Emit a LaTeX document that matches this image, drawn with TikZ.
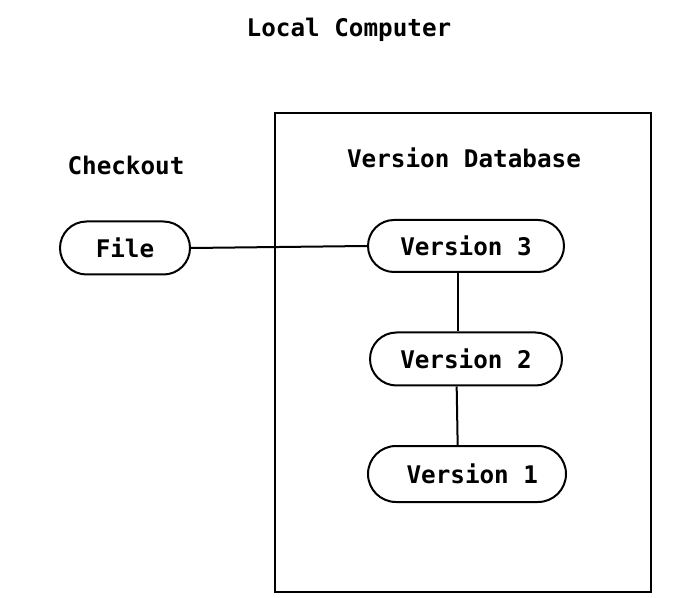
\documentclass[tikz,border=0pt]{standalone}
\usepackage{fontspec}
\setmonofont{DejaVu Sans Mono}
\usetikzlibrary{shapes.misc}
\begin{document}
\begin{tikzpicture}[x=0.75pt,y=-0.75pt,
  lbl/.style={font=\ttfamily\bfseries\fontsize{18.2}{22}\selectfont, inner sep=0pt},
  pill/.style={draw, line width=1.5pt, rounded rectangle, inner sep=0pt, lbl},
  conn/.style={line width=1.5pt}]
\useasboundingbox (0,0) rectangle (678,598);
\node[lbl] (title) at (349,30) {Local Computer};
\node[lbl] (checkout) at (126,165) {Checkout};
\node[draw, line width=1.5pt, minimum width=376*0.75pt, minimum height=479*0.75pt, inner sep=0pt] (db) at (463,352.5) {};
\node[lbl] (dbtitle) at (464,158) {Version Database};
\node[pill, minimum width=130*0.75pt, minimum height=53*0.75pt] (file) at (125,248) {File};
\node[pill, minimum width=196*0.75pt, minimum height=52*0.75pt] (v3) at (466,246) {Version 3};
\node[pill, minimum width=192*0.75pt, minimum height=53*0.75pt] (v2) at (466,359) {Version 2};
\node[pill, minimum width=198*0.75pt, minimum height=56*0.75pt] (v1) at (467,474) {\hspace*{8pt}Version 1};
\draw[conn] (file.east) -- (v3.west);
\draw[conn] ([xshift=-6pt]v3.south) -- ([xshift=-6pt]v2.north);
\draw[conn] ([xshift=-7pt]v2.south) -- ([xshift=-7pt]v1.north);
\end{tikzpicture}
\end{document}
